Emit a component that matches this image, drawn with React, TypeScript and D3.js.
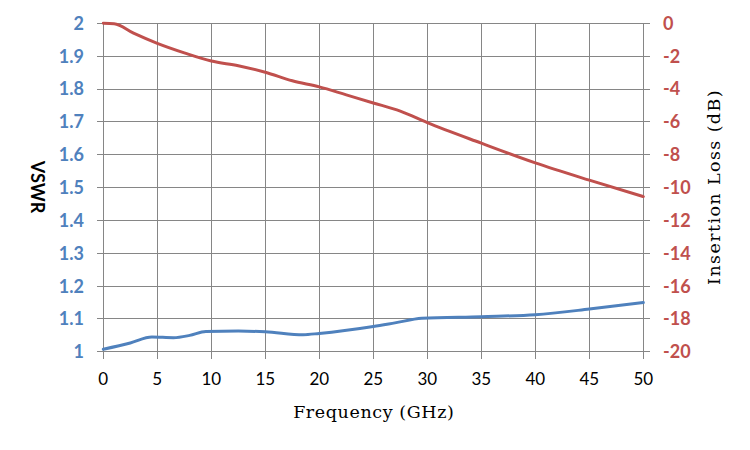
import { useEffect, useRef } from 'react'
import * as d3 from 'd3'

// VSWR series (left axis)
const vswrFreq = [0, 2.5, 4.5, 6.5, 8, 9.5, 12.5, 15, 18.5, 20, 25, 27, 29.5, 35, 40, 45, 50]
const vswrVals = [1.008, 1.027, 1.045, 1.043, 1.05, 1.062, 1.063, 1.061, 1.052, 1.056, 1.077, 1.088, 1.102, 1.107, 1.113, 1.13, 1.15]

// Insertion loss series (right axis)
const ilFreq = [0, 1, 2.8, 5, 7.5, 10, 12.5, 15, 17.5, 20, 22.5, 25, 27.5, 30, 35, 40, 45, 50]
const ilVals = [0, -0.02, -0.6, -1.22, -1.8, -2.3, -2.58, -2.98, -3.5, -3.87, -4.36, -4.85, -5.35, -6.05, -7.3, -8.5, -9.55, -10.55]

const xTicks = [0, 5, 10, 15, 20, 25, 30, 35, 40, 45, 50]
const leftTicks = [1, 1.1, 1.2, 1.3, 1.4, 1.5, 1.6, 1.7, 1.8, 1.9, 2]
const rightTicks = [0, -2, -4, -6, -8, -10, -12, -14, -16, -18, -20]

const BLUE = '#4F81BD'
const RED = '#C0504D'
const GRID = '#868686'

export default function App() {
  const svgRef = useRef<SVGSVGElement>(null)

  useEffect(() => {
    if (!svgRef.current) return
    const svg = d3.select(svgRef.current)
    svg.selectAll('*').remove()

    const left = 103.3
    const right = 643.3
    const top = 23.3
    const bottom = 351.8

    const x = d3.scaleLinear().domain([0, 50]).range([left, right])
    const yL = d3.scaleLinear().domain([1, 2]).range([bottom, top])
    const yR = d3.scaleLinear().domain([-20, 0]).range([bottom, top])

    const grid = svg.append('g').attr('stroke', GRID).attr('stroke-width', 1).attr('shape-rendering', 'crispEdges')
    // vertical grid + bottom ticks
    xTicks.forEach(t => {
      grid.append('line').attr('x1', x(t)).attr('x2', x(t)).attr('y1', top).attr('y2', bottom + 7)
    })
    // horizontal grid + side ticks
    leftTicks.forEach(t => {
      grid.append('line').attr('x1', left - 6).attr('x2', right + 7).attr('y1', yL(t)).attr('y2', yL(t))
    })

    const sans = 'Lato, "Open Sans", sans-serif'
    const serif = '"DejaVu Serif", "Liberation Serif", serif'

    // bottom labels
    svg.append('g').selectAll('text').data(xTicks).join('text')
      .attr('x', d => x(d)).attr('y', 385)
      .attr('text-anchor', 'middle')
      .attr('font-family', sans).attr('font-size', 17).attr('fill', '#000')
      .text(d => d)

    // left labels
    svg.append('g').selectAll('text').data(leftTicks).join('text')
      .attr('x', 84).attr('y', d => yL(d)).attr('dy', '0.36em')
      .attr('text-anchor', 'end')
      .attr('font-family', sans).attr('font-weight', 700).attr('font-size', 18).attr('fill', BLUE)
      .text(d => d3.format('~g')(d))

    // right labels
    svg.append('g').selectAll('text').data(rightTicks).join('text')
      .attr('x', 663).attr('y', d => yR(d)).attr('dy', '0.36em')
      .attr('text-anchor', 'start')
      .attr('font-family', sans).attr('font-weight', 700).attr('font-size', 18).attr('fill', RED)
      .text(d => d)

    // axis titles
    svg.append('text')
      .attr('x', (left + right) / 2 + 0.5).attr('y', 418)
      .attr('text-anchor', 'middle')
      .attr('font-family', serif).attr('font-size', 17.5).attr('letter-spacing', 0.6).attr('fill', '#000')
      .text('Frequency (GHz)')

    svg.append('text')
      .attr('transform', 'translate(720,187) rotate(-90)')
      .attr('text-anchor', 'middle')
      .attr('font-family', serif).attr('font-size', 17.5).attr('letter-spacing', 1.4).attr('fill', '#000')
      .text('Insertion Loss (dB)')

    svg.append('text')
      .attr('transform', 'translate(31,187) rotate(90)')
      .attr('text-anchor', 'middle')
      .attr('font-family', sans).attr('font-weight', 700).attr('font-size', 18).attr('fill', '#000')
      .text('VSWR')

    // lines
    const vswrLine = d3.line<number>()
      .x((_, i) => x(vswrFreq[i]))
      .y(d => yL(d))
      .curve(d3.curveMonotoneX)
    svg.append('path').attr('d', vswrLine(vswrVals)!)
      .attr('fill', 'none').attr('stroke', BLUE).attr('stroke-width', 3).attr('stroke-linecap', 'round')

    const ilLine = d3.line<number>()
      .x((_, i) => x(ilFreq[i]))
      .y(d => yR(d))
      .curve(d3.curveMonotoneX)
    svg.append('path').attr('d', ilLine(ilVals)!)
      .attr('fill', 'none').attr('stroke', RED).attr('stroke-width', 3).attr('stroke-linecap', 'round')
  }, [])

  return <svg ref={svgRef} width={750} height={450} style={{ position: 'absolute', left: 0, top: 0, background: '#fff' }} />
}
